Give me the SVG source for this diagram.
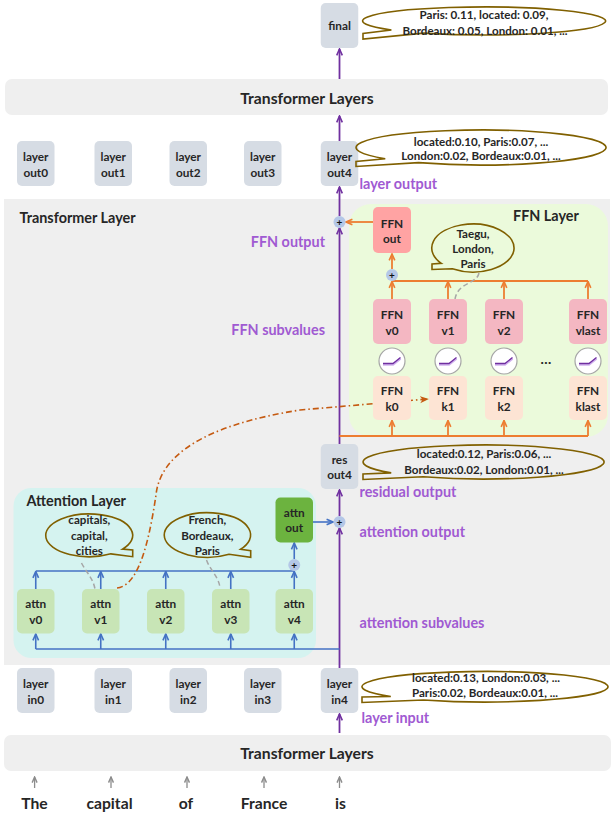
<svg xmlns="http://www.w3.org/2000/svg" width="615" height="813" viewBox="0 0 615 813">
<defs>
<style>
text { font-family: Lato, "Liberation Sans", sans-serif; font-weight: bold; fill: #262626; }
.nl { font-size: 11.8px; text-anchor: middle; }
.co { font-size: 11.6px; text-anchor: middle; }
.pl { font-size: 14.4px; fill: #a05ad2; }
.ti { font-size: 14.4px; }
.big { font-size: 15.7px; text-anchor: middle; }
.pt { font-size: 10px; text-anchor: middle; fill: #111; }
.lay { fill: #d6dce4; }
.ffo { fill: #ffa3a3; }
.ffv { fill: #f4b7c2; }
.ffk { fill: #fde4d4; }
.atv { fill: #c8e5b6; }
.ato { fill: #6cb33f; }
.cal { fill: none; stroke: #806000; stroke-width: 1.6; stroke-linejoin: miter; }
.pu { stroke: #7030a0; stroke-width: 1.8; fill: none; }
.or { stroke: #ed7d31; stroke-width: 1.8; fill: none; }
.bl { stroke: #4472c4; stroke-width: 1.6; fill: none; }
.gr { stroke: #8c8c8c; stroke-width: 1.3; fill: none; }
.dash { stroke: #a6a6a6; stroke-width: 1.5; stroke-dasharray: 5 3; fill: none; }
.dd { stroke: #c55a11; stroke-width: 1.6; stroke-dasharray: 6 3 1.5 3; fill: none; }
.plus { fill: #b4c7e7; }
.act { fill: #fff; stroke: #a6a6a6; stroke-width: 1.2; }
.relu { stroke: #7030a0; stroke-width: 1.3; fill: none; }
.relu2 { stroke: #d2b4ee; stroke-width: 2.4; fill: none; }
</style>
<marker id="mp" viewBox="0 0 10 10" refX="9" refY="5" markerWidth="8" markerHeight="8" markerUnits="userSpaceOnUse" orient="auto"><path d="M1,1.5 L9,5 L1,8.5" fill="none" stroke="#7030a0" stroke-width="2"/></marker>
<marker id="mo" viewBox="0 0 10 10" refX="9" refY="5" markerWidth="8" markerHeight="8" markerUnits="userSpaceOnUse" orient="auto"><path d="M1,1.5 L9,5 L1,8.5" fill="none" stroke="#ed7d31" stroke-width="2"/></marker>
<marker id="mb" viewBox="0 0 10 10" refX="9" refY="5" markerWidth="8" markerHeight="8" markerUnits="userSpaceOnUse" orient="auto"><path d="M1,1.5 L9,5 L1,8.5" fill="none" stroke="#4472c4" stroke-width="2"/></marker>
<marker id="mg" viewBox="0 0 10 10" refX="9" refY="5" markerWidth="7" markerHeight="7" markerUnits="userSpaceOnUse" orient="auto"><path d="M1,1.5 L9,5 L1,8.5" fill="none" stroke="#8c8c8c" stroke-width="2"/></marker>
<marker id="md" viewBox="0 0 10 10" refX="9" refY="5" markerWidth="9" markerHeight="9" markerUnits="userSpaceOnUse" orient="auto"><path d="M0,1 L10,5 L0,9 L3,5 Z" fill="#c55a11"/></marker>
</defs>

<rect width="615" height="813" fill="#ffffff"/>

<!-- backgrounds -->
<g id="transformer-layer-bg">
<rect x="4" y="199" width="606" height="466" fill="#efefef"/>
<text class="ti" x="19.5" y="223">Transformer Layer</text>
</g>
<g id="ffn-layer">
<rect x="349" y="204" width="259" height="233" rx="22" fill="#ebfadb"/>
<text class="ti" x="513" y="221">FFN Layer</text>
</g>
<g id="attention-layer">
<rect x="13.5" y="488" width="302.5" height="170" rx="18" fill="#d5f3f0"/>
<text class="ti" x="26.5" y="506">Attention Layer</text>
</g>
<g id="transformer-layers-top">
<rect x="5" y="79" width="603" height="36" rx="7" fill="#efefef"/>
<text class="big" x="307" y="103.5">Transformer Layers</text>
</g>
<g id="transformer-layers-bottom">
<rect x="4" y="735" width="607" height="36" rx="7" fill="#efefef"/>
<text class="big" x="307" y="758.5">Transformer Layers</text>
</g>

<!-- connectors -->
<g id="connectors">
<path class="pu" d="M339.5,668 V528" marker-end="url(#mp)"/>
<path class="pu" d="M339.5,516 V490" marker-end="url(#mp)"/>
<path class="pu" d="M339.5,444 V228" marker-end="url(#mp)"/>
<path class="pu" d="M339.5,216 V187" marker-end="url(#mp)"/>
<path class="pu" d="M339.5,141 V116" marker-end="url(#mp)"/>
<path class="pu" d="M339.5,79 V49" marker-end="url(#mp)"/>
<path class="pu" d="M339.5,733 V714" marker-end="url(#mp)"/>

<path class="or" d="M373,222 H346" marker-end="url(#mo)"/>
<path class="or" d="M392,269 V254" marker-end="url(#mo)"/>
<path class="or" d="M392,281 H588"/>
<path class="or" d="M392,299 V281.5" marker-end="url(#mo)"/>
<path class="or" d="M448,299 V281.5" marker-end="url(#mo)"/>
<path class="or" d="M504,299 V281.5" marker-end="url(#mo)"/>
<path class="or" d="M588,299 V281.5" marker-end="url(#mo)"/>
<path class="or" d="M339.5,436 H588"/>
<path class="or" d="M392,436 V420.5" marker-end="url(#mo)"/>
<path class="or" d="M448,436 V420.5" marker-end="url(#mo)"/>
<path class="or" d="M504,436 V420.5" marker-end="url(#mo)"/>
<path class="or" d="M588,436 V420.5" marker-end="url(#mo)"/>

<path class="bl" d="M35.75,649 H339.5"/>
<path class="bl" d="M35.75,649 V634" marker-end="url(#mb)"/>
<path class="bl" d="M100.75,649 V634" marker-end="url(#mb)"/>
<path class="bl" d="M165.75,649 V634" marker-end="url(#mb)"/>
<path class="bl" d="M230.75,649 V634" marker-end="url(#mb)"/>
<path class="bl" d="M294.25,649 V634" marker-end="url(#mb)"/>
<path class="bl" d="M35.75,571 H294.25"/>
<path class="bl" d="M35.75,589 V571.5" marker-end="url(#mb)"/>
<path class="bl" d="M100.75,589 V571.5" marker-end="url(#mb)"/>
<path class="bl" d="M165.75,589 V571.5" marker-end="url(#mb)"/>
<path class="bl" d="M230.75,589 V571.5" marker-end="url(#mb)"/>
<path class="bl" d="M294.25,589 V571.5" marker-end="url(#mb)"/>
<path class="bl" d="M294.25,559 V543" marker-end="url(#mb)"/>
<path class="bl" d="M313,522 H333" marker-end="url(#mb)"/>

<path class="gr" d="M34.6,788 V777" marker-end="url(#mg)"/>
<path class="gr" d="M111,788 V777" marker-end="url(#mg)"/>
<path class="gr" d="M187,788 V777" marker-end="url(#mg)"/>
<path class="gr" d="M264,788 V777" marker-end="url(#mg)"/>
<path class="gr" d="M339.5,788 V777" marker-end="url(#mg)"/>

<path class="dash" d="M81.5,563 C86,572 93,578 95,589"/>
<path class="dash" d="M206.5,560 C210,570 219,577 220,588"/>
<path class="dash" d="M479,273 C477,284 458,282 455,299"/>

<path class="dd" d="M117,588 C140,586 150,535 156,495 C160,455 205,425 300,410 L428,399" marker-end="url(#md)"/>
</g>

<!-- plus nodes -->
<g id="plus-ffn">
<circle class="plus" cx="339.5" cy="222" r="6"/><text class="pt" x="339.5" y="225.5">+</text>
</g>
<g id="plus-attn">
<circle class="plus" cx="339.5" cy="522" r="6"/><text class="pt" x="339.5" y="525.5">+</text>
</g>
<g id="plus-ffn-sum">
<circle class="plus" cx="392" cy="275" r="6"/><text class="pt" x="392" y="278.5">+</text>
</g>
<g id="plus-attn-sum">
<circle class="plus" cx="294.25" cy="565" r="6"/><text class="pt" x="294.25" y="568.5">+</text>
</g>

<!-- top nodes -->
<g id="final">
<rect class="lay" x="320.75" y="3" width="37.5" height="45" rx="5"/>
<text class="nl" x="339.5" y="29.5">final</text>
</g>
<g id="callout-final">
<path class="cal" d="M391.4,30 A121.5,14 0 1 1 423.75,33.1 L363,39 L363,33.5 Z"/>
<text class="co" x="484" y="19">Paris: 0.11, located: 0.09,</text>
<text class="co" x="485" y="34.7">Bordeaux: 0.05, London: 0.01, ...</text>
</g>

<g id="layer-out0"><rect class="lay" x="17" y="141" width="37.5" height="45" rx="5"/><text class="nl" x="35.75" y="160.5">layer</text><text class="nl" x="35.75" y="177">out0</text></g>
<g id="layer-out1"><rect class="lay" x="94.5" y="141" width="37.5" height="45" rx="5"/><text class="nl" x="113.25" y="160.5">layer</text><text class="nl" x="113.25" y="177">out1</text></g>
<g id="layer-out2"><rect class="lay" x="169.5" y="141" width="37.5" height="45" rx="5"/><text class="nl" x="188.25" y="160.5">layer</text><text class="nl" x="188.25" y="177">out2</text></g>
<g id="layer-out3"><rect class="lay" x="244" y="141" width="37.5" height="45" rx="5"/><text class="nl" x="262.75" y="160.5">layer</text><text class="nl" x="262.75" y="177">out3</text></g>
<g id="layer-out4"><rect class="lay" x="320.75" y="141" width="37.5" height="45" rx="5"/><text class="nl" x="339.5" y="160.5">layer</text><text class="nl" x="339.5" y="177">out4</text></g>
<g id="callout-out4">
<path class="cal" d="M385.25,158.75 A125,17.5 0 1 1 418.5,162.66 L356,166.5 L356,161.5 Z"/>
<text class="co" x="481" y="145.7">located:0.10, Paris:0.07, ...</text>
<text class="co" x="481" y="160">London:0.02, Bordeaux:0.01, ...</text>
</g>

<!-- labels -->
<g id="labels">
<text class="pl" x="359.5" y="188.5">layer output</text>
<text class="pl" x="325" y="246.5" text-anchor="end">FFN output</text>
<text class="pl" x="325" y="335" text-anchor="end">FFN subvalues</text>
<text class="pl" x="359.5" y="496.5">residual output</text>
<text class="pl" x="359.5" y="536.5">attention output</text>
<text class="pl" x="359.5" y="627.5">attention subvalues</text>
<text class="pl" x="361.5" y="723">layer input</text>
</g>

<!-- FFN nodes -->
<g id="ffn-out"><rect class="ffo" x="373" y="207" width="38" height="46" rx="5"/><text class="nl" x="392" y="228">FFN</text><text class="nl" x="392" y="242.5">out</text></g>
<g id="ffn-v0"><rect class="ffv" x="373" y="299" width="38" height="45" rx="5"/><text class="nl" x="392" y="319">FFN</text><text class="nl" x="392" y="335">v0</text></g>
<g id="ffn-v1"><rect class="ffv" x="429" y="299" width="38" height="45" rx="5"/><text class="nl" x="448" y="319">FFN</text><text class="nl" x="448" y="335">v1</text></g>
<g id="ffn-v2"><rect class="ffv" x="485" y="299" width="38" height="45" rx="5"/><text class="nl" x="504" y="319">FFN</text><text class="nl" x="504" y="335">v2</text></g>
<g id="ffn-vlast"><rect class="ffv" x="569" y="299" width="38" height="45" rx="5"/><text class="nl" x="588" y="319">FFN</text><text class="nl" x="588" y="335">vlast</text></g>

<g id="act0"><circle class="act" cx="392" cy="361" r="13"/><path class="relu2" d="M383,364.5 H393 L400.5,358.5"/><path class="relu" d="M383,363.5 H393 L400.5,357.5"/></g>
<g id="act1"><circle class="act" cx="448" cy="361" r="13"/><path class="relu2" d="M439,364.5 H449 L456.5,358.5"/><path class="relu" d="M439,363.5 H449 L456.5,357.5"/></g>
<g id="act2"><circle class="act" cx="504" cy="361" r="13"/><path class="relu2" d="M495,364.5 H505 L512.5,358.5"/><path class="relu" d="M495,363.5 H505 L512.5,357.5"/></g>
<g id="act3"><circle class="act" cx="588" cy="361" r="13"/><path class="relu2" d="M579,364.5 H589 L596.5,358.5"/><path class="relu" d="M579,363.5 H589 L596.5,357.5"/></g>
<text x="546" y="364" font-size="14" text-anchor="middle">…</text>

<g id="ffn-k0"><rect class="ffk" x="373" y="376" width="38" height="44" rx="5"/><text class="nl" x="392" y="395">FFN</text><text class="nl" x="392" y="410.7">k0</text></g>
<g id="ffn-k1"><rect class="ffk" x="429" y="376" width="38" height="44" rx="5"/><text class="nl" x="448" y="395">FFN</text><text class="nl" x="448" y="410.7">k1</text></g>
<g id="ffn-k2"><rect class="ffk" x="485" y="376" width="38" height="44" rx="5"/><text class="nl" x="504" y="395">FFN</text><text class="nl" x="504" y="410.7">k2</text></g>
<g id="ffn-klast"><rect class="ffk" x="569" y="376" width="38" height="44" rx="5"/><text class="nl" x="588" y="395">FFN</text><text class="nl" x="588" y="410.7">klast</text></g>

<g id="callout-taegu">
<path class="cal" d="M441.3,263.4 A41.15,24 0 1 1 452.3,268.8 L432,269.5 L432,264 Z"/>
<text class="co" x="473" y="237.5">Taegu,</text>
<text class="co" x="473" y="253">London,</text>
<text class="co" x="473" y="268">Paris</text>
</g>

<!-- residual -->
<g id="res-out4"><rect class="lay" x="320.75" y="444" width="37.5" height="45" rx="5"/><text class="nl" x="339.5" y="463.5">res</text><text class="nl" x="339.5" y="478.5">out4</text></g>
<g id="callout-res">
<path class="cal" d="M391.2,472.9 A120.5,17 0 1 1 423.25,476.7 L363,479.5 L363,474 Z"/>
<text class="co" x="484" y="458">located:0.12, Paris:0.06, ...</text>
<text class="co" x="484" y="474">Bordeaux:0.02, London:0.01, ...</text>
</g>

<!-- attention nodes -->
<g id="attn-out"><rect class="ato" x="275.5" y="497.5" width="37.5" height="45" rx="5"/><text class="nl" x="294.25" y="516.7">attn</text><text class="nl" x="294.25" y="532.3">out</text></g>
<g id="attn-v0"><rect class="atv" x="17" y="589" width="37.5" height="44.5" rx="5"/><text class="nl" x="35.75" y="608">attn</text><text class="nl" x="35.75" y="624">v0</text></g>
<g id="attn-v1"><rect class="atv" x="82" y="589" width="37.5" height="44.5" rx="5"/><text class="nl" x="100.75" y="608">attn</text><text class="nl" x="100.75" y="624">v1</text></g>
<g id="attn-v2"><rect class="atv" x="147" y="589" width="37.5" height="44.5" rx="5"/><text class="nl" x="165.75" y="608">attn</text><text class="nl" x="165.75" y="624">v2</text></g>
<g id="attn-v3"><rect class="atv" x="212" y="589" width="37.5" height="44.5" rx="5"/><text class="nl" x="230.75" y="608">attn</text><text class="nl" x="230.75" y="624">v3</text></g>
<g id="attn-v4"><rect class="atv" x="275.5" y="589" width="37.5" height="44.5" rx="5"/><text class="nl" x="294.25" y="608">attn</text><text class="nl" x="294.25" y="624">v4</text></g>

<g id="callout-capitals">
<path class="cal" d="M122.5,549.1 A43.5,21.35 0 1 0 110.95,553.85 L132.7,556.7 L132.7,550 Z"/>
<text class="co" x="89.3" y="524">capitals,</text>
<text class="co" x="89.3" y="539.7">capital,</text>
<text class="co" x="89.3" y="555">cities</text>
</g>
<g id="callout-french">
<path class="cal" d="M240.6,549.3 A43.2,22.3 0 1 0 229.1,554.3 L250.7,557.3 L250.7,550.7 Z"/>
<text class="co" x="207.3" y="524">French,</text>
<text class="co" x="207.3" y="539.7">Bordeaux,</text>
<text class="co" x="207.3" y="555">Paris</text>
</g>

<!-- layer inputs -->
<g id="layer-in0"><rect class="lay" x="17" y="668" width="37.5" height="45" rx="5"/><text class="nl" x="35.75" y="687.5">layer</text><text class="nl" x="35.75" y="704">in0</text></g>
<g id="layer-in1"><rect class="lay" x="94.5" y="668" width="37.5" height="45" rx="5"/><text class="nl" x="113.25" y="687.5">layer</text><text class="nl" x="113.25" y="704">in1</text></g>
<g id="layer-in2"><rect class="lay" x="169.5" y="668" width="37.5" height="45" rx="5"/><text class="nl" x="188.25" y="687.5">layer</text><text class="nl" x="188.25" y="704">in2</text></g>
<g id="layer-in3"><rect class="lay" x="244" y="668" width="37.5" height="45" rx="5"/><text class="nl" x="262.75" y="687.5">layer</text><text class="nl" x="262.75" y="704">in3</text></g>
<g id="layer-in4"><rect class="lay" x="320.75" y="668" width="37.5" height="45" rx="5"/><text class="nl" x="339.5" y="687.5">layer</text><text class="nl" x="339.5" y="704">in4</text></g>
<g id="callout-in4">
<path class="cal" d="M390.8,696.55 A123,15.25 0 1 1 423.5,699.95 L362,702.5 L362,697 Z"/>
<text class="co" x="486" y="682">located:0.13, London:0.03, ...</text>
<text class="co" x="485" y="697">Paris:0.02, Bordeaux:0.01, ...</text>
</g>

<!-- input words -->
<g id="words">
<text class="big" x="34.5" y="808.5">The</text>
<text class="big" x="109.5" y="808.5">capital</text>
<text class="big" x="186" y="808.5">of</text>
<text class="big" x="264" y="808.5">France</text>
<text class="big" x="340.5" y="808.5">is</text>
</g>
</svg>
